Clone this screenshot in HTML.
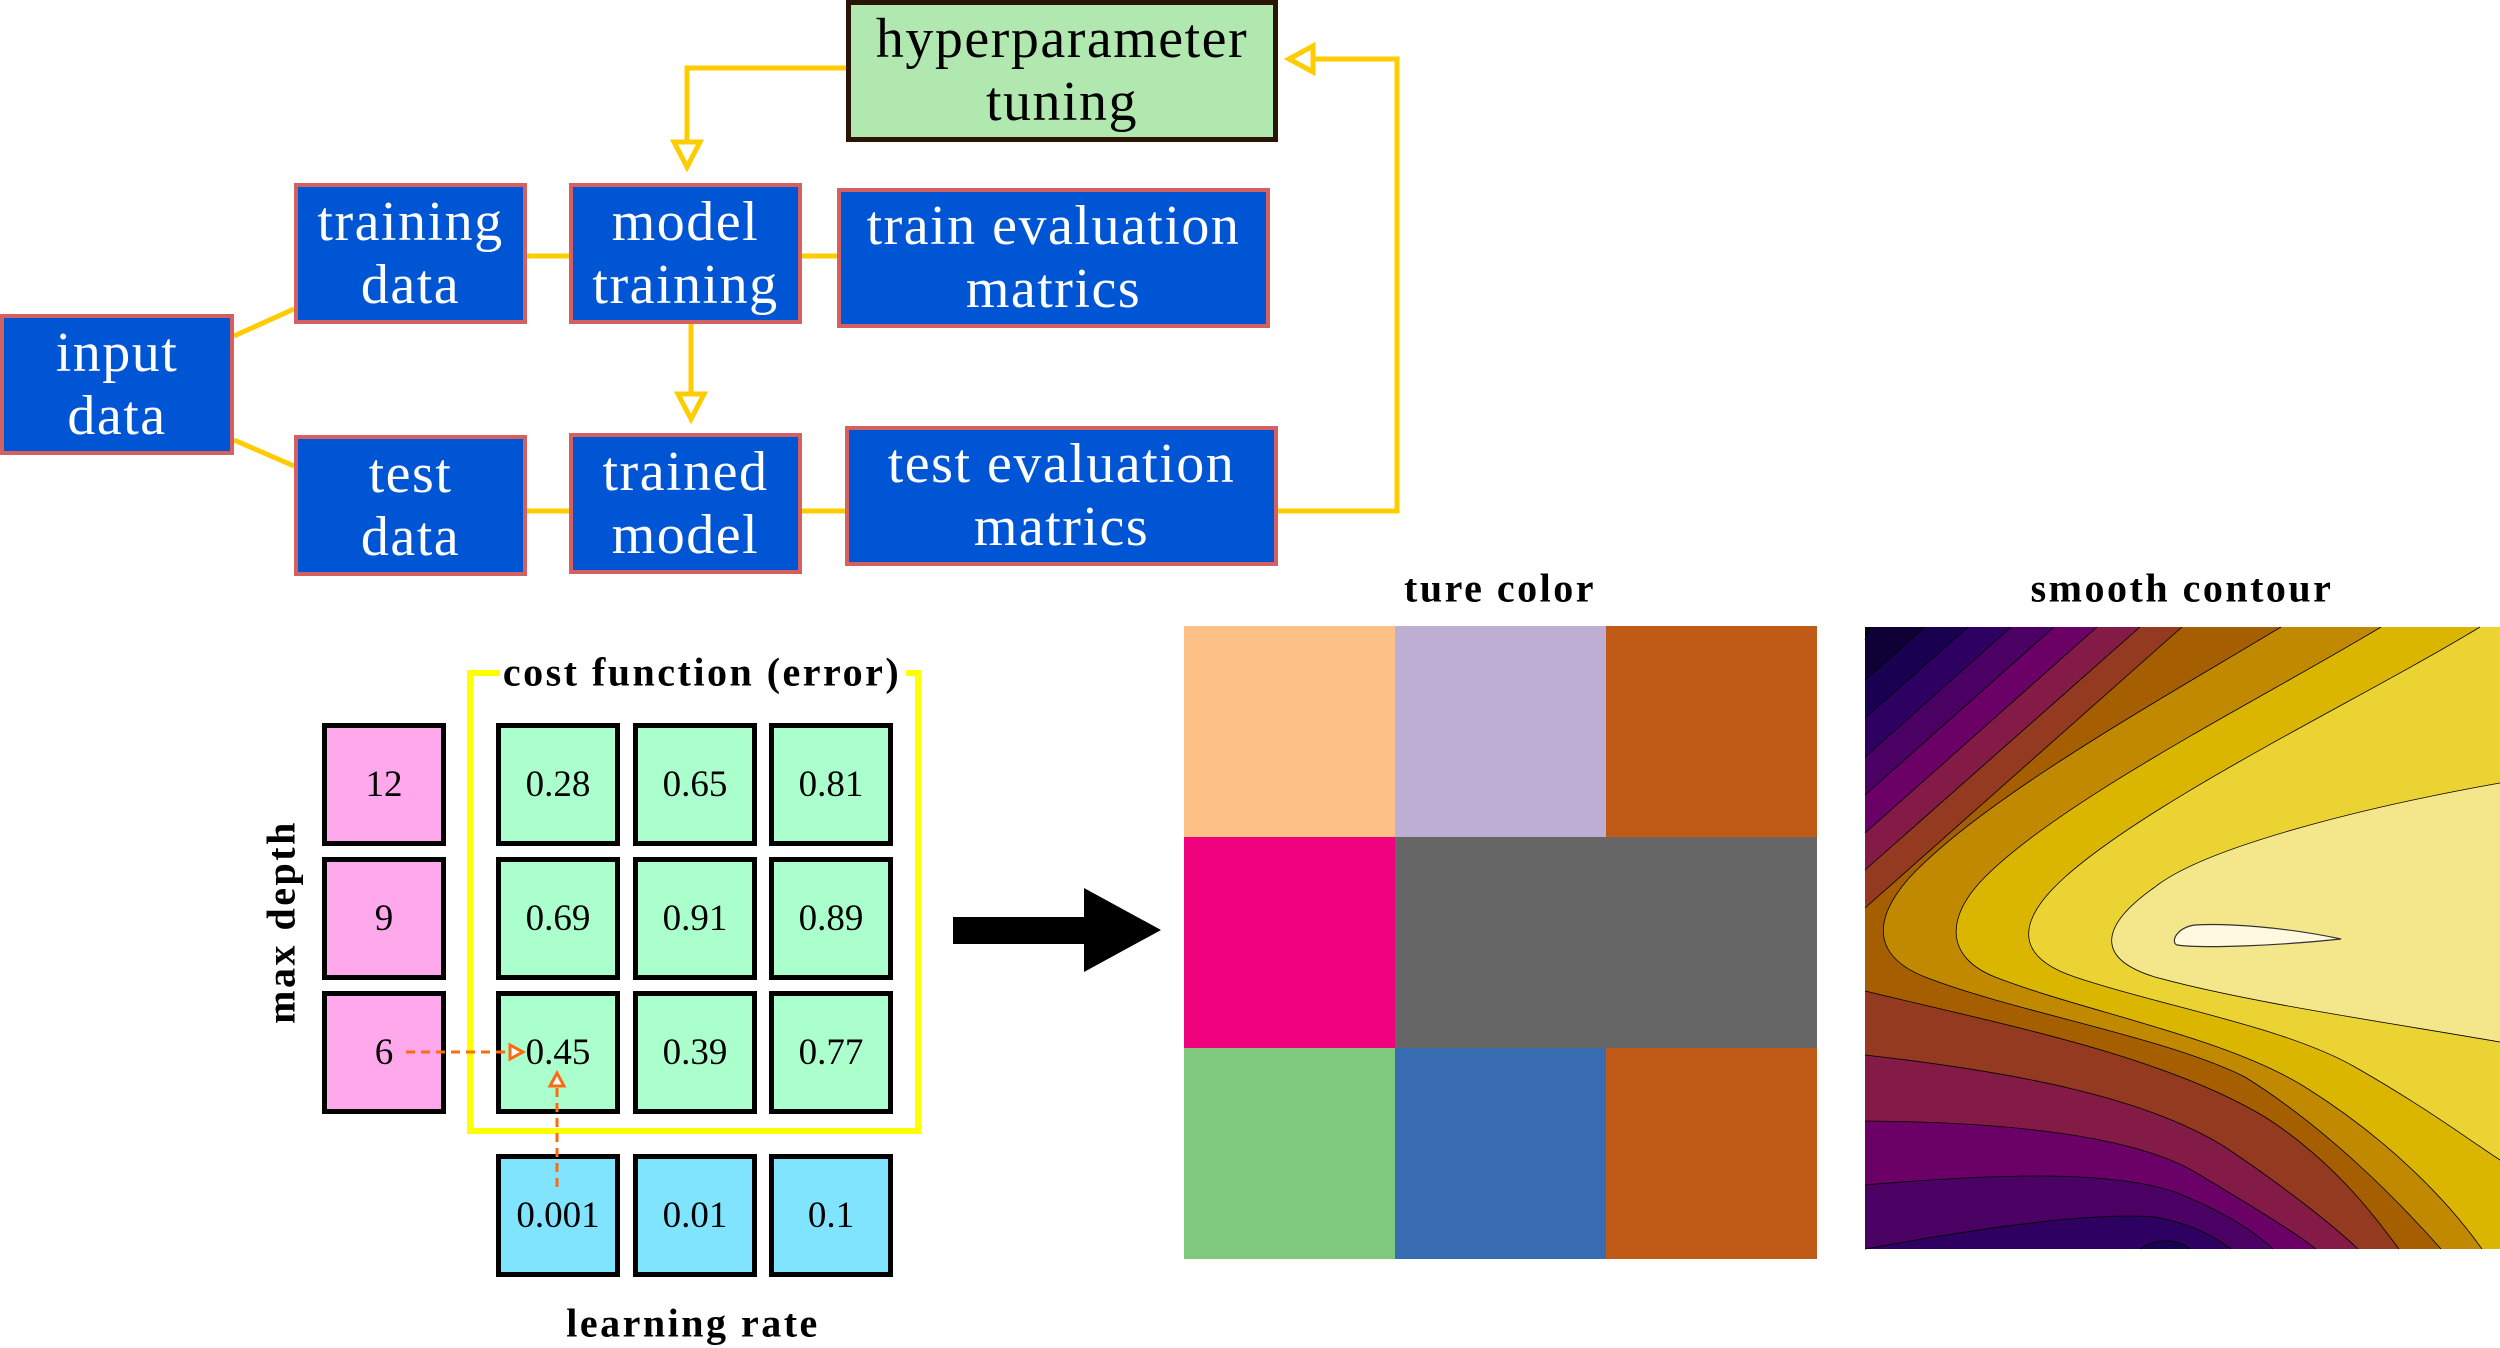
<!DOCTYPE html>
<html><head><meta charset="utf-8"><style>
body{margin:0;width:2500px;height:1348px;background:#fff;position:relative;overflow:hidden;font-family:"Liberation Serif",serif}
.b{position:absolute;box-sizing:border-box;display:flex;align-items:center;justify-content:center;text-align:center;font-size:56px;line-height:63px;letter-spacing:1.5px}
.blue{background:#0055d4;border:4px solid #d46060;color:#fff}
.c{position:absolute;box-sizing:border-box;border:5px solid #000;display:flex;align-items:center;justify-content:center;font-size:37px;width:124px;height:123px}
.t{position:absolute;font-weight:bold;font-size:40px;letter-spacing:2.5px;white-space:nowrap;transform:translate(-50%,-50%)}
</style></head><body>
<svg style="position:absolute;left:0;top:0" width="2500" height="1348">
<g stroke="#ffcc00" stroke-width="5" fill="none">
<polyline points="846,68 687,68 687,142"/>
<polygon points="674,142 700,142 687,167" fill="#fff"/>
<line x1="691" y1="323" x2="691" y2="394"/>
<polygon points="678,394 704,394 691,419" fill="#fff"/>
<polyline points="1278,511 1397,511 1397,59 1313,59"/>
<polygon points="1313,46 1313,72 1289,59" fill="#fff"/>
<line x1="234" y1="336" x2="294" y2="309"/>
<line x1="234" y1="440" x2="294" y2="466"/>
<line x1="527" y1="256" x2="569" y2="256"/>
<line x1="802" y1="256" x2="837" y2="256"/>
<line x1="527" y1="511" x2="569" y2="511"/>
<line x1="802" y1="511" x2="845" y2="511"/>
</g>
<polyline points="500,673 470,673 470,1131 918,1131 918,673 906,673" fill="none" stroke="#ffff00" stroke-width="6"/>
<rect x="953" y="917" width="132" height="27" fill="#000"/>
<polygon points="1084,888 1161,930 1084,972" fill="#000"/>
<rect x="1184" y="626" width="211" height="211" fill="#fdc086"/>
<rect x="1395" y="626" width="211" height="211" fill="#beaed4"/>
<rect x="1606" y="626" width="211" height="211" fill="#bf5b17"/>
<rect x="1184" y="837" width="211" height="211" fill="#f0027f"/>
<rect x="1395" y="837" width="422" height="211" fill="#666666"/>
<rect x="1184" y="1048" width="211" height="211" fill="#7fc97f"/>
<rect x="1395" y="1048" width="211" height="211" fill="#386cb0"/>
<rect x="1606" y="1048" width="211" height="211" fill="#bf5b17"/>
<g transform="translate(1865,627)">
<rect width="635" height="622" fill="#050010"/>
<path d="M5,0 L0,13 L0,622 L635,622 L635,0Z" fill="#0f0035"/>
<path d="M60,0 L0,53 L0,622 L635,622 L635,0Z" fill="#1a0050"/>
<path d="M103,0 L0,91 L0,622 L635,622 L635,0Z" fill="#2e0062"/>
<path d="M275,622 C290,612 310,610 325,622Z" fill="#1a0050"/>
<path d="M146,0 L0,130 L0,622 C120,600 230,585 290,590 C330,598 350,610 366,622 L635,622 L635,0Z" fill="#4b0064"/>
<path d="M189,0 L0,168 L0,558 C150,545 250,545 310,565 C360,585 390,605 408,622 L635,622 L635,0Z" fill="#6b0066"/>
<path d="M232,0 L0,206 L0,494 C150,495 270,510 330,545 C380,575 430,605 451,622 L635,622 L635,0Z" fill="#841b47"/>
<path d="M275,0 L0,243 L0,428 C150,445 280,470 360,520 C420,560 470,600 493,622 L635,622 L635,0Z" fill="#943a20"/>
<path d="M317,0 L0,281 L0,364 C150,400 300,430 400,490 C470,535 510,590 534,622 L635,622 L635,0Z" fill="#a55e00"/>
<path d="M416,0 C300,70 120,170 45,250 C5,295 10,330 60,350 C150,385 300,410 380,450 C460,500 530,570 576,622 L635,622 L635,0Z" fill="#c08900"/>
<path d="M516,0 C400,70 200,170 120,250 C80,290 80,330 130,350 C220,385 360,410 440,460 C520,510 580,570 617,622 L635,622 L635,0Z" fill="#dbb600"/>
<path d="M615,0 C500,70 290,170 200,250 C150,295 150,330 210,350 C300,380 420,400 490,440 C560,480 600,510 635,533 L635,0Z" fill="#ebd334"/>
<path d="M635,156 C500,180 340,220 290,260 C240,295 225,330 290,350 C380,375 520,395 635,415Z" fill="#f4e68a"/>
<path d="M476,312 C420,300 360,296 330,298 C312,300 305,315 312,318 C340,322 420,318 476,312Z" fill="#fff9df" stroke="#333" stroke-width="1.2"/>
<g stroke="#000" stroke-width="0.8" fill="none">
<path d="M5,0 L0,13 M60,0 L0,53 M103,0 L0,91 M146,0 L0,130 M189,0 L0,168 M232,0 L0,206 M275,0 L0,243 M317,0 L0,281"/>
<path d="M275,622 C290,612 310,610 325,622"/>
<path d="M0,622 C120,600 230,585 290,590 C330,598 350,610 366,622"/>
<path d="M0,558 C150,545 250,545 310,565 C360,585 390,605 408,622"/>
<path d="M0,494 C150,495 270,510 330,545 C380,575 430,605 451,622"/>
<path d="M0,428 C150,445 280,470 360,520 C420,560 470,600 493,622"/>
<path d="M0,364 C150,400 300,430 400,490 C470,535 510,590 534,622"/>
<path d="M416,0 C300,70 120,170 45,250 C5,295 10,330 60,350 C150,385 300,410 380,450 C460,500 530,570 576,622"/>
<path d="M516,0 C400,70 200,170 120,250 C80,290 80,330 130,350 C220,385 360,410 440,460 C520,510 580,570 617,622"/>
<path d="M615,0 C500,70 290,170 200,250 C150,295 150,330 210,350 C300,380 420,400 490,440 C560,480 600,510 635,533"/>
<path d="M635,156 C500,180 340,220 290,260 C240,295 225,330 290,350 C380,375 520,395 635,415"/>
</g>
</g>
</svg>

<div class="b" style="left:846px;top:0;width:432px;height:142px;background:#b0e8b0;border:5px solid #2a1505;color:#000">hyperparameter<br>tuning</div>
<div class="b blue" style="left:294px;top:183px;width:233px;height:141px">training<br>data</div>
<div class="b blue" style="left:569px;top:183px;width:233px;height:141px">model<br>training</div>
<div class="b blue" style="left:837px;top:188px;width:433px;height:140px">train evaluation<br>matrics</div>
<div class="b blue" style="left:0;top:314px;width:234px;height:141px">input<br>data</div>
<div class="b blue" style="left:294px;top:435px;width:233px;height:141px">test<br>data</div>
<div class="b blue" style="left:569px;top:433px;width:233px;height:141px">trained<br>model</div>
<div class="b blue" style="left:845px;top:426px;width:433px;height:140px">test evaluation<br>matrics</div>

<div class="t" style="left:702px;top:672px">cost function (error)</div>
<div class="t" style="left:281px;top:922px;transform:translate(-50%,-50%) rotate(-90deg)">max depth</div>
<div class="t" style="left:693px;top:1323px">learning rate</div>
<div class="t" style="left:1500px;top:588px">ture color</div>
<div class="t" style="left:2182px;top:588px">smooth contour</div>

<div class="c" style="left:322px;top:723px;background:#ffa8ec">12</div>
<div class="c" style="left:322px;top:857px;background:#ffa8ec">9</div>
<div class="c" style="left:322px;top:991px;background:#ffa8ec">6</div>
<div class="c" style="left:496px;top:723px;background:#aaffcc">0.28</div>
<div class="c" style="left:633px;top:723px;background:#aaffcc">0.65</div>
<div class="c" style="left:769px;top:723px;background:#aaffcc">0.81</div>
<div class="c" style="left:496px;top:857px;background:#aaffcc">0.69</div>
<div class="c" style="left:633px;top:857px;background:#aaffcc">0.91</div>
<div class="c" style="left:769px;top:857px;background:#aaffcc">0.89</div>
<div class="c" style="left:496px;top:991px;background:#aaffcc">0.45</div>
<div class="c" style="left:633px;top:991px;background:#aaffcc">0.39</div>
<div class="c" style="left:769px;top:991px;background:#aaffcc">0.77</div>
<div class="c" style="left:496px;top:1154px;background:#80e4ff">0.001</div>
<div class="c" style="left:633px;top:1154px;background:#80e4ff">0.01</div>
<div class="c" style="left:769px;top:1154px;background:#80e4ff">0.1</div>

<svg style="position:absolute;left:0;top:0" width="2500" height="1348">
<g stroke="#ff6a10" stroke-width="3" fill="none" stroke-dasharray="9,6">
<line x1="406" y1="1052" x2="510" y2="1052"/>
<line x1="557" y1="1187" x2="557" y2="1086"/>
</g>
<polygon points="510,1045 510,1059 523,1052" fill="#fff" stroke="#ff6a10" stroke-width="3"/>
<polygon points="550,1086 564,1086 557,1073" fill="#fff" stroke="#ff6a10" stroke-width="3"/>
</svg>
</body></html>
